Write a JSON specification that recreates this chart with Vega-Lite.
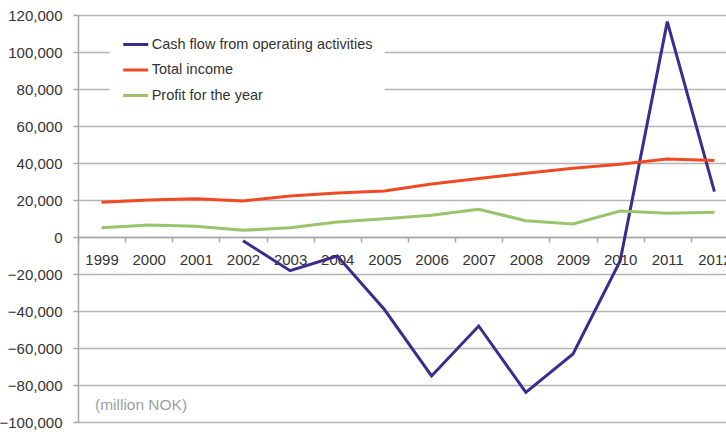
{
  "$schema": "https://vega.github.io/schema/vega-lite/v6.json",
  "autosize": {"type": "none"},
  "padding": {"left": 78, "top": 15, "right": 0, "bottom": 10},
  "width": 660,
  "height": 407,
  "background": "white",
  "config": {
    "font": "Liberation Sans",
    "view": {"stroke": null},
    "axis": {"labelOverlap": false}
  },
  "data": {
    "values": [
      {"year": 2002, "series": "Cash flow from operating activities", "value": -2000},
      {"year": 2003, "series": "Cash flow from operating activities", "value": -18200},
      {"year": 2004, "series": "Cash flow from operating activities", "value": -10300},
      {"year": 2005, "series": "Cash flow from operating activities", "value": -39200},
      {"year": 2006, "series": "Cash flow from operating activities", "value": -75100},
      {"year": 2007, "series": "Cash flow from operating activities", "value": -48100},
      {"year": 2008, "series": "Cash flow from operating activities", "value": -84000},
      {"year": 2009, "series": "Cash flow from operating activities", "value": -63200},
      {"year": 2010, "series": "Cash flow from operating activities", "value": -13000},
      {"year": 2011, "series": "Cash flow from operating activities", "value": 116400},
      {"year": 2012, "series": "Cash flow from operating activities", "value": 24500},
      {"year": 1999, "series": "Total  income", "value": 18800},
      {"year": 2000, "series": "Total  income", "value": 20000},
      {"year": 2001, "series": "Total  income", "value": 20700},
      {"year": 2002, "series": "Total  income", "value": 19500},
      {"year": 2003, "series": "Total  income", "value": 22200},
      {"year": 2004, "series": "Total  income", "value": 23800},
      {"year": 2005, "series": "Total  income", "value": 24900},
      {"year": 2006, "series": "Total  income", "value": 28600},
      {"year": 2007, "series": "Total  income", "value": 31600},
      {"year": 2008, "series": "Total  income", "value": 34400},
      {"year": 2009, "series": "Total  income", "value": 37100},
      {"year": 2010, "series": "Total  income", "value": 39300},
      {"year": 2011, "series": "Total  income", "value": 42200},
      {"year": 2012, "series": "Total  income", "value": 41400},
      {"year": 1999, "series": "Profit for the year", "value": 5000},
      {"year": 2000, "series": "Profit for the year", "value": 6500},
      {"year": 2001, "series": "Profit for the year", "value": 5800},
      {"year": 2002, "series": "Profit for the year", "value": 3600},
      {"year": 2003, "series": "Profit for the year", "value": 5000},
      {"year": 2004, "series": "Profit for the year", "value": 8100},
      {"year": 2005, "series": "Profit for the year", "value": 9900},
      {"year": 2006, "series": "Profit for the year", "value": 11700},
      {"year": 2007, "series": "Profit for the year", "value": 15000},
      {"year": 2008, "series": "Profit for the year", "value": 8800},
      {"year": 2009, "series": "Profit for the year", "value": 7000},
      {"year": 2010, "series": "Profit for the year", "value": 14000},
      {"year": 2011, "series": "Profit for the year", "value": 12800},
      {"year": 2012, "series": "Profit for the year", "value": 13400}
    ]
  },
  "encoding": {
    "x": {
      "field": "year",
      "type": "quantitative",
      "scale": {"domain": [1998.5, 2012.5], "nice": false, "zero": false},
      "axis": {
        "title": null,
        "orient": "bottom",
        "offset": -185,
        "values": [1998.5, 1999.5, 2000.5, 2001.5, 2002.5, 2003.5, 2004.5, 2005.5, 2006.5, 2007.5, 2008.5, 2009.5, 2010.5, 2011.5, 2012.5],
        "labelExpr": "datum.value < 2012 ? '' + (datum.value + 0.5) : ''",
        "labelOffset": 23.55,
        "labelBaseline": "top",
        "labelPadding": 10,
        "labelFontSize": 15,
        "labelColor": "#333333",
        "labelFlush": false,
        "labelOverlap": false,
        "tickSize": 5,
        "tickColor": "#a6a6a6",
        "tickWidth": 1.5,
        "domainColor": "#a6a6a6",
        "domainWidth": 1.5,
        "grid": false
      }
    },
    "y": {
      "field": "value",
      "type": "quantitative",
      "scale": {"domain": [-100000, 120000], "nice": false},
      "axis": {
        "title": null,
        "values": [-100000, -80000, -60000, -40000, -20000, 0, 20000, 40000, 60000, 80000, 100000, 120000],
        "format": ",d",
        "labelFontSize": 15,
        "labelColor": "#333333",
        "labelPadding": 11,
        "labelFlush": false,
        "labelOverlap": false,
        "tickSize": 5,
        "tickColor": "#a6a6a6",
        "tickWidth": 1.5,
        "domainColor": "#a6a6a6",
        "domainWidth": 1.5,
        "grid": true,
        "gridColor": "#b4b4b4",
        "gridWidth": 1.5
      }
    }
  },
  "layer": [
    {
      "mark": {"type": "line", "strokeWidth": 3, "clip": false},
      "encoding": {
        "color": {
          "field": "series",
          "type": "nominal",
          "sort": ["Cash flow from operating activities", "Total  income", "Profit for the year"],
          "scale": {
            "domain": ["Cash flow from operating activities", "Total  income", "Profit for the year"],
            "range": ["#3a2d8e", "#f04a22", "#98c56a"]
          },
          "legend": {
            "title": null,
            "orient": "none",
            "legendX": 31.7,
            "legendY": 3.5,
            "padding": 12,
            "fillColor": "white",
            "symbolType": "stroke",
            "symbolSize": 625,
            "symbolStrokeWidth": 3,
            "labelFontSize": 14.5,
            "labelColor": "#333333",
            "labelOffset": 2,
            "rowPadding": 4.5,
            "labelLimit": 400
          }
        }
      }
    },
    {
      "data": {"values": [{"label": "(million NOK)", "year": 1998.86, "value": -90800}]},
      "mark": {"type": "text", "align": "left", "baseline": "middle", "fontSize": 15.5, "color": "#a0a0a0"},
      "encoding": {
        "text": {"field": "label"}
      }
    }
  ]
}
